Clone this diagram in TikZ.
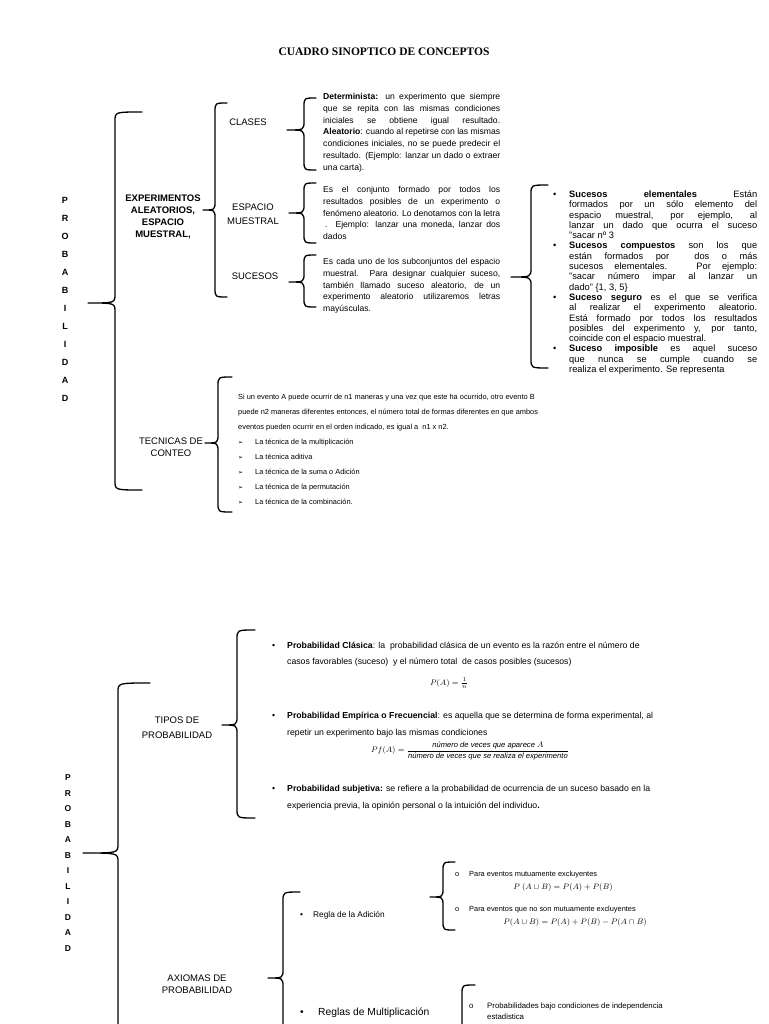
\documentclass[tikz,border=0pt]{standalone}
\usepackage{amsmath,amssymb}
\usepackage{fontspec}
\setmainfont{Liberation Sans}
\newfontfamily\titlefont{Liberation Serif}
\newfontfamily\symfont{DejaVu Sans}
\usetikzlibrary{positioning}
% left curly brace: x, top, bottom, tip x, tip y, end of the ticks
\newcommand{\curlyb}[6]{%
  \draw[bracket] (#6,#2) .. controls (#1,#2) .. (#1,#2+9)
    -- (#1,#5-9) .. controls (#1,#5) .. (#4,#5)
    .. controls (#1,#5) .. (#1,#5+9)
    -- (#1,#3-9) .. controls (#1,#3) .. (#6,#3);}
\newcommand{\bitem}{\par\hangindent=16pt\hangafter=1\noindent\makebox[16pt][l]{\textbullet}}
\newcommand{\arritem}{\makebox[17pt][l]{{\symfont\fontsize{6}{6}\selectfont ➢}}}
\tikzset{
  bracket/.style   = {line width=1.3pt,line join=round,line cap=round},
  vletter/.style   = {inner sep=0pt,font=\bfseries\fontsize{9}{10}\selectfont},
  catlabel/.style  = {align=center,inner sep=0pt,font=\fontsize{9.5}{13.5}\selectfont},
  catbold/.style   = {align=center,inner sep=0pt,font=\bfseries\fontsize{9.5}{12.2}\selectfont},
  bodytext/.style  = {anchor=north west,inner sep=0pt,align=justify,font=\fontsize{8.6}{11.8}\selectfont},
  listtext/.style  = {anchor=north west,inner sep=0pt,align=justify,font=\fontsize{9.3}{10.3}\selectfont},
  plaintext/.style = {anchor=north west,inner sep=0pt,align=left},
  formula/.style   = {inner sep=0pt}
}

\begin{document}
\begin{tikzpicture}[x=1pt,y=-1pt]
  \useasboundingbox (0,0) rectangle (768,1024);
  \clip (0,0) rectangle (768,1024);
  \node[font=\titlefont\bfseries\fontsize{11.5}{13}\selectfont] (titulo) at (384,52)
       {CUADRO SINOPTICO DE CONCEPTOS};

  % --- first block: experimentos, espacio muestral, sucesos, conteo
  \foreach \l [count=\i from 0] in {P,R,O,B,A,B,I,L,I,D,A,D}
    \node[vletter] (pa\i) at (65,200+18*\i) {\l};
  \curlyb{115}{112}{490}{88}{303}{142}
  \node[catbold] (experim) at (163,217) {EXPERIMENTOS\\ALEATORIOS,\\ESPACIO\\MUESTRAL,};
  \curlyb{215}{103}{297}{203}{210}{227}
  \node[catlabel] (clases)  at (248,122) {CLASES};
  \node[catlabel] (espacio) at (253,214) {ESPACIO\\MUESTRAL};
  \node[catlabel] (sucesos) at (255,276) {SUCESOS};

  \curlyb{304}{98}{170}{287}{130}{316}
  \node[bodytext,text width=177] (txtclases) at (323,93)
       {\textbf{Determinista:} un experimento que siempre\linebreak
        que se repita con las mismas condiciones\linebreak
        iniciales se obtiene igual resultado.\linebreak
        \textbf{Aleatorio}: cuando al repetirse con las mismas\linebreak
        condiciones iniciales, no se puede predecir el\linebreak
        resultado. (Ejemplo: lanzar un dado o extraer\linebreak
        una carta).\par};
  \curlyb{304}{183}{243}{289}{213}{316}
  \node[bodytext,text width=177] (txtespacio) at (323,186)
       {Es el conjunto formado por todos los\linebreak
        resultados posibles de un experimento o\linebreak
        fenómeno aleatorio. Lo denotamos con la letra\linebreak
        \hspace*{2pt}. Ejemplo: lanzar una moneda, lanzar dos\linebreak
        dados\par};
  \curlyb{304}{255}{307}{289}{282}{316}
  \node[bodytext,text width=177] (txtsucesos) at (323,258)
       {Es cada uno de los subconjuntos del espacio\linebreak
        muestral. Para designar cualquier suceso,\linebreak
        también llamado suceso aleatorio, de un\linebreak
        experimento aleatorio utilizaremos letras\linebreak
        mayúsculas.\par};

  \curlyb{531}{185}{368}{511}{277}{548}
  \node[listtext,text width=204] (tiposuceso) at (553,187)
       {\bitem\textbf{Sucesos elementales} Están\linebreak
        formados por un sólo elemento del\linebreak
        espacio muestral, por ejemplo, al\linebreak
        lanzar un dado que ocurra el suceso\linebreak
        "sacar nº 3
        \bitem\textbf{Sucesos compuestos} son los que\linebreak
        están formados por\ \ dos o más\linebreak
        sucesos elementales. Por ejemplo:\linebreak
        "sacar número impar al lanzar un\linebreak
        dado" \{1, 3, 5\}
        \bitem\textbf{Suceso seguro} es el que se verifica\linebreak
        al realizar el experimento aleatorio.\linebreak
        Está formado por todos los resultados\linebreak
        posibles del experimento y, por tanto,\linebreak
        coincide con el espacio muestral.
        \bitem\textbf{Suceso imposible} es aquel suceso\linebreak
        que nunca se cumple cuando se\linebreak
        realiza el experimento. Se representa\par};

  \node[catlabel,font=\fontsize{9.5}{12}\selectfont] (conteo) at (171,447) {TECNICAS DE\\CONTEO};
  \curlyb{218}{377}{512}{205}{443}{232}
  \node[plaintext,font=\fontsize{7.4}{15}\selectfont] (txtconteo) at (238,394)
       {Si un evento A puede ocurrir de n1 maneras y una vez que este ha ocurrido, otro evento B\\
        puede n2 maneras diferentes entonces, el número total de formas diferentes en que ambos\\
        eventos pueden ocurrir en el orden indicado, es igual a\ \ n1 x n2.\\
        \arritem La técnica de la multiplicación\\
        \arritem La técnica aditiva\\
        \arritem La técnica de la suma o Adición\\
        \arritem La técnica de la permutación\\
        \arritem La técnica de la combinación.};

  % --- second block: tipos y axiomas
  \foreach \l [count=\i from 0] in {P,R,O,B,A,B,I,L,I,D,A,D}
    \node[vletter,font=\bfseries\fontsize{8.5}{10}\selectfont] (pb\i) at (68,778+15.5*\i) {\l};
  \curlyb{118}{683}{1080}{83}{853}{150}

  \node[catlabel,font=\fontsize{9.5}{15}\selectfont] (tipos) at (177,728) {TIPOS DE\\PROBABILIDAD};
  \curlyb{237}{630}{818}{222}{725}{255}
  \node[plaintext,font=\fontsize{8.7}{16}\selectfont] (clasica) at (272,642)
       {\makebox[15pt][l]{\textbullet}\textbf{Probabilidad Clásica}: la\ \ probabilidad clásica de un evento es la razón entre el número de\\
        \hspace*{15pt}casos favorables (suceso)\ \ y el número total\ \ de casos posibles (sucesos)};
  \node[formula,font=\fontsize{8.5}{10}\selectfont] (fclasica) at (449,683) {$P(A) = \frac{1}{n}$};
  \node[plaintext,font=\fontsize{8.7}{16.5}\selectfont] (empirica) at (272,712)
       {\makebox[15pt][l]{\textbullet}\textbf{Probabilidad Empírica o Frecuencial}: es aquella que se determina de forma experimental, al\\
        \hspace*{15pt}repetir un experimento bajo las mismas condiciones};
  \node[formula,font=\fontsize{7.6}{9}\selectfont] (fempirica) at (470,751)
       {$Pf(A) = \dfrac{\textit{número de veces que aparece } A}{\textit{número de veces que se realiza el experimento}}$};
  \node[plaintext,font=\fontsize{8.7}{17}\selectfont] (subjetiva) at (272,785)
       {\makebox[15pt][l]{\textbullet}\textbf{Probabilidad subjetiva:} se refiere a la probabilidad de ocurrencia de un suceso basado en la\\
        \hspace*{15pt}experiencia previa, la opinión personal o la intuición del individuo\textbf{.}};

  \node[catlabel,font=\fontsize{9.5}{12.5}\selectfont] (axiomas) at (197,984) {AXIOMAS DE\\PROBABILIDAD};
  \curlyb{283}{892}{1080}{268}{978}{300}
  \node[anchor=west,inner sep=0pt,font=\fontsize{8.3}{9}\selectfont] (adicion) at (300,915)
       {\makebox[13pt][l]{\textbullet}Regla de la Adición};
  \node[anchor=west,inner sep=0pt,font=\fontsize{10.3}{12}\selectfont] (multip) at (300,1013)
       {\makebox[18pt][l]{\textbullet}Reglas de Multiplicación};

  \curlyb{443}{862}{930}{430}{897}{455}
  \node[anchor=west,inner sep=0pt,font=\fontsize{7.4}{9}\selectfont] (excl) at (455,875)
       {\makebox[14pt][l]{o}Para eventos mutuamente excluyentes};
  \node[formula,font=\fontsize{7.8}{9}\selectfont] (fexcl) at (563,887) {$P\ (A \cup B) = P(A) + P(B)$};
  \node[anchor=west,inner sep=0pt,font=\fontsize{7.4}{9}\selectfont] (noexcl) at (455,910)
       {\makebox[14pt][l]{o}Para eventos que no son mutuamente excluyentes};
  \node[formula,font=\fontsize{8}{9}\selectfont] (fnoexcl) at (575,922) {$P(A \cup B) = P(A) + P(B) - P(A \cap B)$};

  \curlyb{462}{985}{1100}{448}{1070}{475}
  \node[plaintext,font=\fontsize{7.8}{11}\selectfont] (indep) at (469,1003)
       {\makebox[18pt][l]{o}Probabilidades bajo condiciones de independencia\\
        \hspace*{18pt}estadistica};
  \node[formula,font=\fontsize{6}{8}\selectfont] (findep) at (571,1028) {$P(A \cap B) = P(A)\cdot P(B)$};
\end{tikzpicture}
\end{document}
